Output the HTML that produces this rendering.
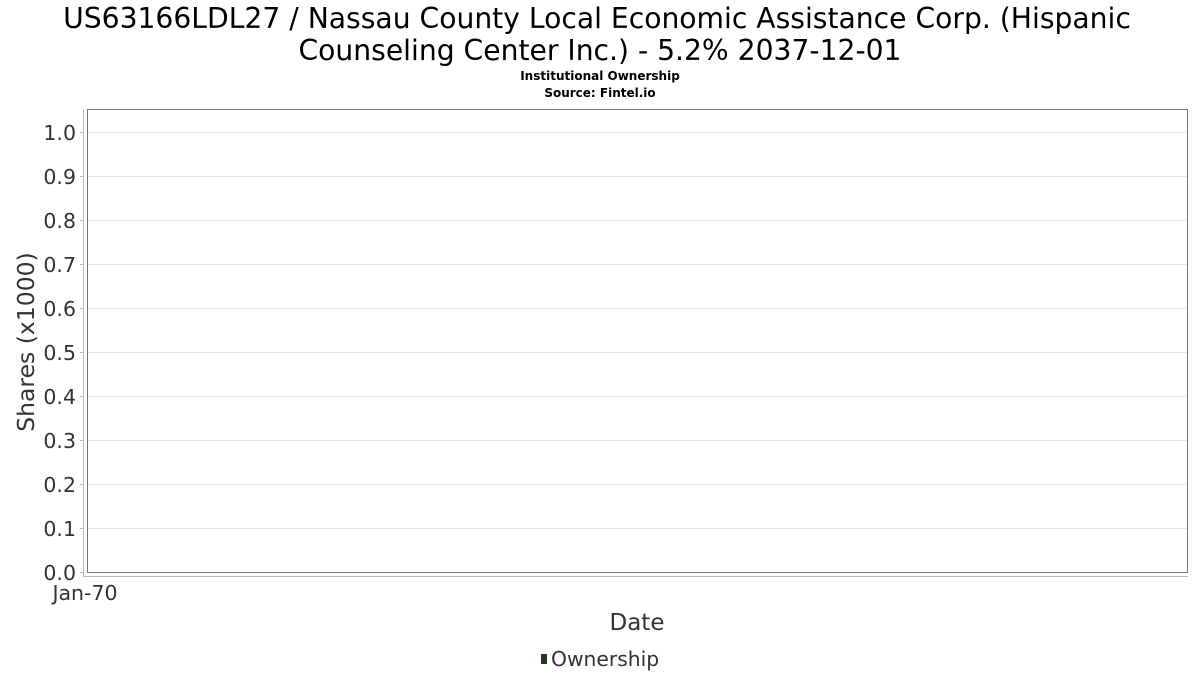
<!DOCTYPE html>
<html><head><meta charset="utf-8"><style>
body{margin:0;background:#fff;width:1200px;height:675px;overflow:hidden}
svg text{font-family:"DejaVu Sans","Liberation Sans",sans-serif}
</style></head><body>
<svg width="1200" height="675" xmlns="http://www.w3.org/2000/svg">
<text x="597" y="28" font-size="28.2" text-anchor="middle" fill="#000">US63166LDL27 / Nassau County Local Economic Assistance Corp. (Hispanic</text>
<text x="600" y="60" font-size="28.2" text-anchor="middle" fill="#000">Counseling Center Inc.) - 5.2% 2037-12-01</text>
<text x="600" y="80" font-size="12" font-weight="bold" text-anchor="middle">Institutional Ownership</text>
<text x="600" y="97" font-size="12" font-weight="bold" text-anchor="middle">Source: Fintel.io</text>
<g stroke="#e3e3e3" stroke-width="1">
<line x1="87" x2="1188" y1="132.5" y2="132.5"/><line x1="87" x2="1188" y1="176.5" y2="176.5"/>
<line x1="87" x2="1188" y1="220.5" y2="220.5"/><line x1="87" x2="1188" y1="264.5" y2="264.5"/>
<line x1="87" x2="1188" y1="308.5" y2="308.5"/><line x1="87" x2="1188" y1="352.5" y2="352.5"/>
<line x1="87" x2="1188" y1="396.5" y2="396.5"/><line x1="87" x2="1188" y1="440.5" y2="440.5"/>
<line x1="87" x2="1188" y1="484.5" y2="484.5"/><line x1="87" x2="1188" y1="528.5" y2="528.5"/>
</g>
<rect x="87.5" y="109.5" width="1100" height="463" fill="none" stroke="#777"/>
<line x1="83.5" x2="83.5" y1="110" y2="577" stroke="#bbb"/>
<line x1="83" x2="1188" y1="576.5" y2="576.5" stroke="#bbb"/>
<g stroke="#bbb">
<line x1="80" x2="84" y1="132.5" y2="132.5"/><line x1="80" x2="84" y1="176.5" y2="176.5"/>
<line x1="80" x2="84" y1="220.5" y2="220.5"/><line x1="80" x2="84" y1="264.5" y2="264.5"/>
<line x1="80" x2="84" y1="308.5" y2="308.5"/><line x1="80" x2="84" y1="352.5" y2="352.5"/>
<line x1="80" x2="84" y1="396.5" y2="396.5"/><line x1="80" x2="84" y1="440.5" y2="440.5"/>
<line x1="80" x2="84" y1="484.5" y2="484.5"/><line x1="80" x2="84" y1="528.5" y2="528.5"/>
<line x1="80" x2="84" y1="572.5" y2="572.5"/>
</g>
<g font-size="20.5" fill="#333" text-anchor="end">
<text x="76" y="140">1.0</text><text x="76" y="184">0.9</text><text x="76" y="228">0.8</text>
<text x="76" y="272">0.7</text><text x="76" y="316">0.6</text><text x="76" y="360">0.5</text>
<text x="76" y="404">0.4</text><text x="76" y="448">0.3</text><text x="76" y="492">0.2</text>
<text x="76" y="536">0.1</text><text x="76" y="580">0.0</text>
</g>
<text x="85" y="600" font-size="20.5" fill="#333" text-anchor="middle">Jan-70</text>
<text x="637" y="630" font-size="23" fill="#333" text-anchor="middle">Date</text>
<text transform="translate(34,342) rotate(-90)" font-size="23.5" fill="#333" text-anchor="middle">Shares (x1000)</text>
<rect x="541" y="654" width="6" height="10" fill="#1a3d1f"/>
<text x="551" y="666" font-size="20.3" fill="#333">Ownership</text>
</svg>
</body></html>
